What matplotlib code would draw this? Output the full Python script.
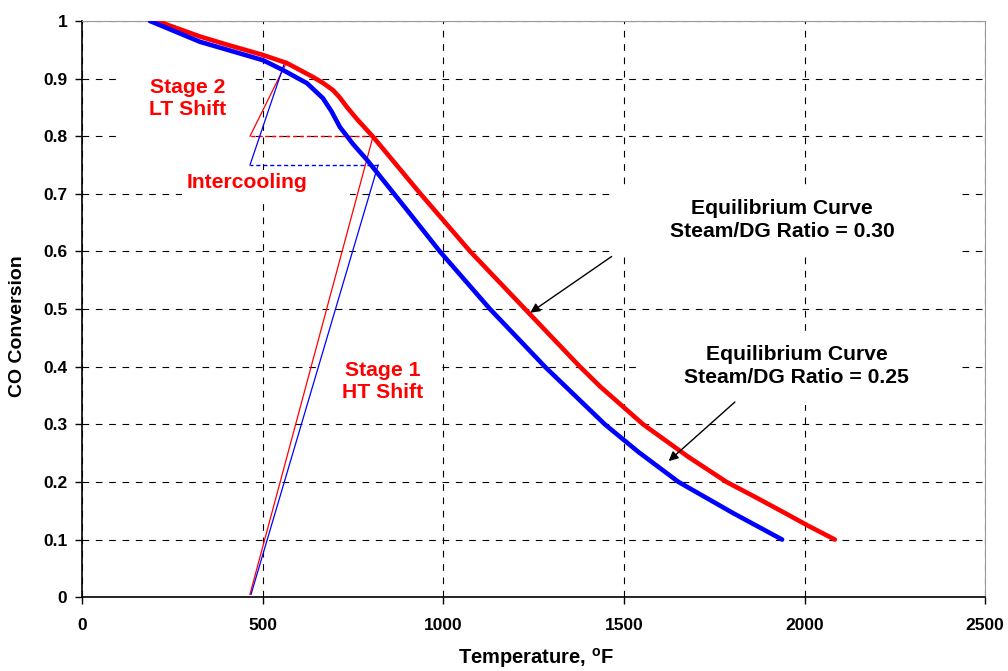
import matplotlib
matplotlib.use("Agg")
import matplotlib.pyplot as plt
from matplotlib.patches import Rectangle

plt.rcParams['font.family'] = ['Liberation Sans', 'DejaVu Sans']
plt.rcParams['font.weight'] = 'bold'
plt.rcParams['mathtext.fontset'] = 'custom'
plt.rcParams['mathtext.rm'] = 'Liberation Sans:bold'
plt.rcParams['mathtext.bf'] = 'Liberation Sans:bold'

# equilibrium curve, steam/DG = 0.30 (red)
temp_030 = [206, 326, 400, 500, 566, 638, 665, 694, 713, 732, 760, 805, 870, 935, 1074, 1226, 1378, 1435, 1553,
            1678, 1784, 1860, 1940, 2010, 2084]
conv_030 = [1.0, 0.973, 0.959, 0.941, 0.927, 0.903, 0.893, 0.880, 0.867, 0.851, 0.830, 0.799, 0.750, 0.701, 0.6,
            0.5, 0.4, 0.365, 0.3, 0.2436, 0.2, 0.175, 0.148, 0.124, 0.1]

# equilibrium curve, steam/DG = 0.25 (blue)
temp_025 = [187, 325, 500, 555, 622, 666, 690, 713, 750, 788, 899, 990, 1129, 1281, 1447, 1540, 1651, 1802, 1938]
conv_025 = [1.0, 0.964, 0.932, 0.915, 0.892, 0.866, 0.843, 0.816, 0.786, 0.759, 0.672, 0.6, 0.5, 0.4, 0.3, 0.252,
            0.2, 0.146, 0.1]

# shift reactor paths: HT stage, intercooling, LT stage
ht_red_t, ht_red_c = [464, 805], [0.005, 0.8]
ic_red_t, ic_red_c = [805, 464], [0.8, 0.8]
lt_red_t, lt_red_c = [464, 566], [0.8, 0.929]
ht_blue_t, ht_blue_c = [467, 819], [0.005, 0.75]
ic_blue_t, ic_blue_c = [819, 464], [0.75, 0.75]
lt_blue_t, lt_blue_c = [464, 558], [0.75, 0.924]

xticks = [0, 500, 1000, 1500, 2000, 2500]
yticks = [0, 0.1, 0.2, 0.3, 0.4, 0.5, 0.6, 0.7, 0.8, 0.9, 1.0]
ylabels = ['0', '0.1', '0.2', '0.3', '0.4', '0.5', '0.6', '0.7', '0.8', '0.9', '1']

fig = plt.figure(figsize=(10.08, 6.71), dpi=100)
ax = fig.add_axes([0.0818, 0.110, 0.8954, 0.8587])

ax.set_xlim(0, 2500)
ax.set_ylim(0, 1)
ax.set_xticks(xticks)
ax.set_xticklabels([str(t) for t in xticks], fontsize=12.5, fontweight='bold')
ax.set_yticks(yticks)
ax.set_yticklabels(ylabels, fontsize=12.5, fontweight='bold')
ax.tick_params(direction='out', length=5, width=1, color='black', pad=6)
ax.tick_params(axis='x', pad=10)

ax.set_axisbelow(True)
ax.grid(True, color='black', lw=0.8, linestyle=(0, (6, 6)))

for side in ['top', 'right']:
    ax.spines[side].set_color('#999999')
for side in ['left', 'bottom']:
    ax.spines[side].set_color('black')
    ax.spines[side].set_linewidth(1.2)

# white text boxes hiding the grid
boxes = [(109, 0.793, 470, 0.911), (276, 0.689, 742, 0.741), (663, 0.316, 990, 0.429),
         (1469, 0.594, 2425, 0.707), (1550, 0.333, 2425, 0.451)]
for x0, y0, x1, y1 in boxes:
    ax.add_patch(Rectangle((x0, y0), x1 - x0, y1 - y0, facecolor='white', edgecolor='none', zorder=1))

ax.plot(ht_red_t, ht_red_c, color='red', lw=0.9, zorder=2)
ax.plot(ic_red_t, ic_red_c, color='red', lw=1, linestyle=(0, (3, 2)), zorder=2)
ax.plot(lt_red_t, lt_red_c, color='red', lw=0.9, zorder=2)
ax.plot(ht_blue_t, ht_blue_c, color='blue', lw=0.9, zorder=2)
ax.plot(ic_blue_t, ic_blue_c, color='blue', lw=1, linestyle=(0, (3, 2)), zorder=2)
ax.plot(lt_blue_t, lt_blue_c, color='blue', lw=0.9, zorder=2)

ax.plot(temp_030, conv_030, color='red', lw=3.3, solid_capstyle='round', solid_joinstyle='round', zorder=3)
ax.plot(temp_025, conv_025, color='blue', lw=3.3, solid_capstyle='round', solid_joinstyle='round', zorder=3)

txt = dict(fontsize=15.2, fontweight='bold', ha='center', va='center', zorder=4)
ax.text(291, 0.865, 'Stage 2\nLT Shift', color='red', linespacing=1.2, **txt)
ax.text(456, 0.72, 'Intercooling', color='red', **txt)
ax.text(832, 0.375, 'Stage 1\nHT Shift', color='red', linespacing=1.2, **txt)
ax.text(1938, 0.655, 'Equilibrium Curve\nSteam/DG Ratio = 0.30', color='black', linespacing=1.3, **txt)
ax.text(1979, 0.401, 'Equilibrium Curve\nSteam/DG Ratio = 0.25', color='black', linespacing=1.3, **txt)

arrow = dict(arrowstyle='-|>', color='black', lw=1, mutation_scale=14)
ax.annotate('', xy=(1234, 0.491), xytext=(1472, 0.594), arrowprops=arrow, zorder=5)
ax.annotate('', xy=(1618, 0.233), xytext=(1813, 0.342), arrowprops=arrow, zorder=5)

ax.set_xlabel(r'Temperature, $^{\mathrm{o}}$F', fontsize=14.5, fontweight='bold')
ax.set_ylabel('CO Conversion', fontsize=14, fontweight='bold')
ax.xaxis.set_label_coords(0.503, -0.085)
ax.yaxis.set_label_coords(-0.062, 0.47)

fig.savefig('out.png', dpi=100)
